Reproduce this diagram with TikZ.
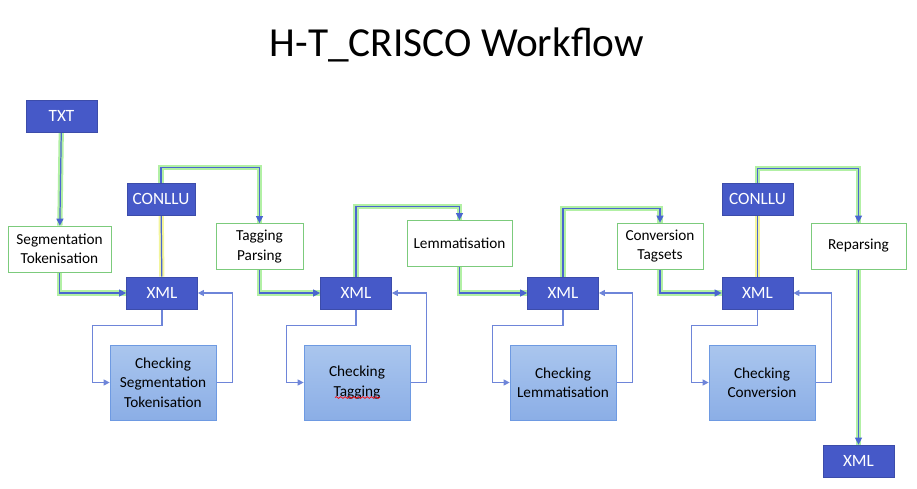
\documentclass[tikz,border=0pt]{standalone}
\usepackage{fontspec}
\setmainfont{Carlito}
\usepackage{xcolor}
\usetikzlibrary{arrows.meta,positioning,backgrounds,decorations.pathmorphing}
\definecolor{dkblue}{HTML}{4659C8}
\definecolor{lnblue}{HTML}{4A66CF}
\definecolor{glowgreen}{HTML}{B2F0A4}
\definecolor{glowyellow}{HTML}{F3F59C}
\definecolor{boxgreen}{HTML}{7CCB7C}
\definecolor{chktop}{HTML}{AAC6EE}
\definecolor{chkbot}{HTML}{8BAEE6}
\definecolor{chkline}{HTML}{6E9AE2}

\begin{document}
\begin{tikzpicture}[x=0.02cm,y=-0.02cm,font=\fontsize{8.7}{11}\selectfont]
        \tikzstyle{fmt}=[draw=dkblue!85!black,fill=dkblue,text=white,minimum width=1.42cm,minimum height=0.64cm,inner sep=0pt,font=\fontsize{9.8}{11}\selectfont]
        \tikzstyle{task}=[draw=boxgreen,fill=white,align=center,minimum height=0.92cm,inner sep=0pt]
        \tikzstyle{chk}=[draw=chkline,top color=chktop,bottom color=chkbot,align=center,minimum width=2.12cm,minimum height=1.5cm]
        \tikzstyle{flow}=[draw=lnblue,line width=0.7pt,-{Triangle[length=4pt,width=4pt]},preaction={draw=glowgreen,line width=3pt,arrows=-}]
        \tikzstyle{glowy}=[draw=lnblue,line width=0.7pt,preaction={draw=glowyellow,line width=3pt}]
        \tikzstyle{chkflow}=[draw=lnblue!80,line width=0.6pt,-{Triangle[length=3.5pt,width=3.5pt]}]
        \useasboundingbox (0,0) rectangle (917,488);
        \node[font=\fontsize{23.5}{28}\selectfont] (title) at (457,45) {H-T\_CRISCO Workflow};
        % formats
        \node[fmt] (txt) at (61.5,116) {TXT};
        \node[fmt,minimum width=1.36cm] (cl1) at (161,199) {CONLLU};
        \node[fmt] (x1) at (162,293) {XML};
        \node[fmt] (x2) at (356,293) {XML};
        \node[fmt] (x3) at (563,293) {XML};
        \node[fmt] (cl2) at (757.5,199) {CONLLU};
        \node[fmt] (x4) at (757.5,293) {XML};
        \node[fmt] (x5) at (858.5,461) {XML};
        % tasks
        \node[task,minimum width=2.06cm] (seg) at (59.5,249) {Segmentation\\Tokenisation};
        \node[task,minimum width=1.74cm] (tp) at (259.5,246.5) {Tagging\\Parsing};
        \node[task,minimum width=2.1cm] (lem) at (459.5,243.5) {Lemmatisation};
        \node[task,minimum width=1.72cm] (cv) at (660,246) {Conversion\\Tagsets};
        \node[task,minimum width=1.9cm] (rep) at (858.5,246) {Reparsing};
        % checks
        \node[chk] (c1) at (163,382.5) {Checking\\Segmentation\\Tokenisation};
        \node[chk] (c2) at (357,382.5) {Checking\\Tagging};
        \node[chk] (c3) at (563,382.5) {Checking\\Lemmatisation};
        \node[chk] (c4) at (762,382.5) {Checking\\Conversion};
        \draw[red,line width=0.4pt,decorate,decoration={snake,amplitude=0.5pt,segment length=2.5pt}]
          ([shift={(-22,15)}]c2.center) -- ([shift={(23,15)}]c2.center);
        \begin{scope}[on background layer]
        \draw[flow] (txt) -- (seg);
        \draw[flow] (cl1.north) -- ++(0,-15) -| (tp.north);
        \draw[glowy] (cl1) -- (x1);
        \draw[flow] (seg.south) |- (x1.west);
        \draw[flow] (tp.south) |- (x2.west);
        \draw[flow] (x2.north) -- ++(0,-70) -| (lem.north);
        \draw[flow] (lem.south) |- (x3.west);
        \draw[flow] (x3.north) -- ++(0,-68) -| (cv.north);
        \draw[flow] (cv.south) |- (x4.west);
        \draw[flow] (cl2.north) -- ++(0,-14) -| (rep.north);
        \draw[glowy] (cl2) -- (x4);
        \draw[flow] (rep) -- (x5);
        % checking loops
        \foreach \x/\c in {x1/c1,x2/c2,x3/c3,x4/c4}{
          \draw[chkflow] (\x.south) -- ++(0,16) -| ([xshift=-0.34cm]\c.west) -- (\c.west);
          \draw[chkflow] (\c.east) -- ++(16,0) |- (\x.east);
        }
        \end{scope}
      \end{tikzpicture}
\end{document}
